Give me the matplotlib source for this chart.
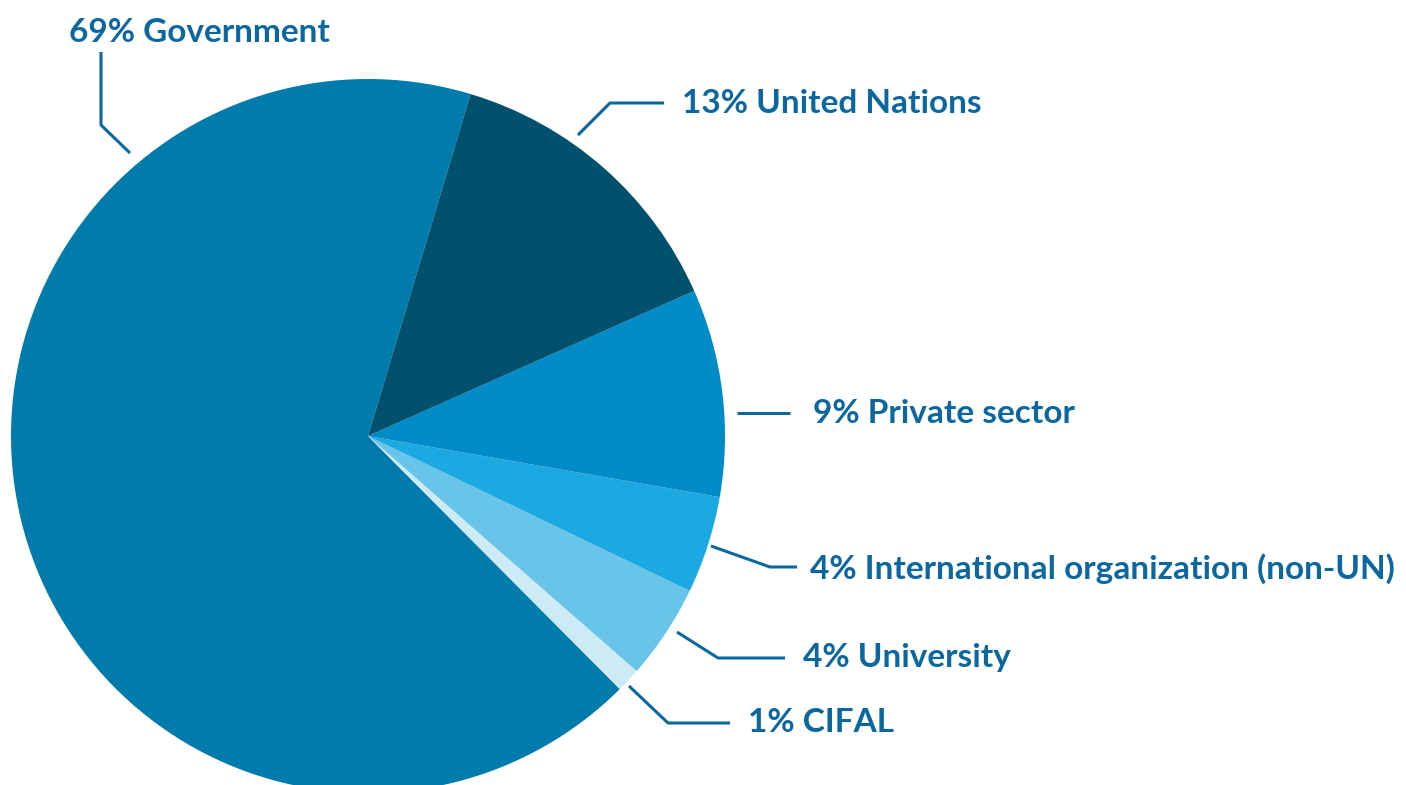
import matplotlib.pyplot as plt

# shares; the printed labels are the rounded values
names = ['Government', 'CIFAL', 'University', 'International organization (non-UN)',
         'Private sector', 'United Nations']
shares = [67.1, 1.1, 4.3, 4.4, 9.4, 13.7]
label_pct = ['69%', '1%', '4%', '4%', '9%', '13%']
colors = ['#007BAB', '#CDEAF7', '#69C4E9', '#1CA8E0', '#008CC6', '#00506E']
text_color = '#0B67A0'

W, H = 1406, 785
cx, cy, R = 368, 436, 357

# leader line layout in pixels: (start, elbow, end, text x, text y)
layout = [
    [(130, 153), (101, 125), (101, 52), 69, 32],
    [(629, 686), (668, 723), (730, 723), 748, 723],
    [(677, 632), (718, 658), (785, 658), 803, 658],
    [(711, 546), (770, 567), (797, 567), 810, 569],
    [(737, 413), (790, 413), (790, 413), 813, 413],
    [(578, 135), (610, 103), (664, 103), 682, 103],
]


def px(x, y):
    return (x - cx) / R, (cy - y) / R


fig = plt.figure(figsize=(W / 100, H / 100), dpi=100)
ax = fig.add_axes([0, 0, 1, 1])
ax.pie(shares, colors=colors, startangle=73.3, counterclock=True, radius=1,
       wedgeprops={'linewidth': 0})
ax.set_xlim(-cx / R, (W - cx) / R)
ax.set_ylim(-(H - cy) / R, cy / R)
ax.set_aspect('equal')
ax.axis('off')

for name, pct, (p0, p1, p2, tx, ty) in zip(names, label_pct, layout):
    pts = [px(*p0), px(*p1), px(*p2)]
    ax.plot([p[0] for p in pts], [p[1] for p in pts], color=text_color, lw=2.2,
            solid_capstyle='butt')
    x, y = px(tx, ty)
    ax.text(x, y, f'{pct} {name}', color=text_color, fontsize=24,
            fontfamily='Lato', fontweight='bold', ha='left', va='center')

fig.savefig('out.png', dpi=100)
